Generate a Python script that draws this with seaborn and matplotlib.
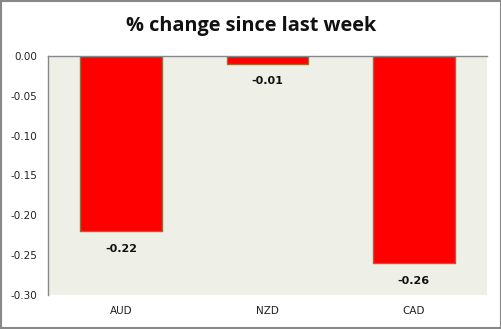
import matplotlib
matplotlib.use("Agg")
import matplotlib.pyplot as plt
import seaborn as sns
import pandas as pd
from matplotlib.patches import Rectangle

currencies = ["AUD", "NZD", "CAD"]
changes = [-0.22, -0.01, -0.26]
yticks = [0.00, -0.05, -0.10, -0.15, -0.20, -0.25, -0.30]

df = pd.DataFrame({"currency": currencies, "change": changes})

sns.set_style("white")
fig = plt.figure(figsize=(5.02, 3.29), dpi=100)
ax = fig.add_axes([0.0956, 0.1033, 0.8745, 0.7267])
ax.set_facecolor("#EEF0E8")

sns.barplot(data=df, x="currency", y="change", color="#FF0000",
            saturation=1, width=0.56, edgecolor="#9A6A3A", linewidth=1.0, ax=ax)

for i, v in enumerate(changes):
    ax.annotate(f"{v:.2f}", xy=(i, v), xytext=(0, -9), textcoords="offset points",
                ha="center", va="top", fontsize=8, fontweight="bold",
                family="DejaVu Sans", color="#111111")

ax.set_ylim(-0.30, 0.0)
ax.set_yticks(yticks)
ax.set_yticklabels([f"{t:.2f}" for t in yticks], fontsize=7.5, color="#222222")
ax.set_xlim(-0.5, 2.5)
ax.tick_params(axis="x", labelsize=7.5, colors="#222222", length=0, pad=8)
ax.tick_params(axis="y", length=0, pad=8)
ax.set_xlabel("")
ax.set_ylabel("")

for s in ["right", "bottom"]:
    ax.spines[s].set_visible(False)
ax.spines["left"].set_color("#888888")
ax.spines["top"].set_color("#888888")
ax.spines["left"].set_linewidth(1.0)
ax.spines["top"].set_linewidth(1.0)

fig.text(0.5, 0.922, "% change since last week", ha="center", va="center",
         fontsize=14.3, fontweight="bold", family="Open Sans", color="#111111")

fig.patches.append(Rectangle((0.001, 0.002), 0.997, 0.995, transform=fig.transFigure,
                             fill=False, edgecolor="#888888", linewidth=1.5))

fig.savefig("out.png", dpi=100)
